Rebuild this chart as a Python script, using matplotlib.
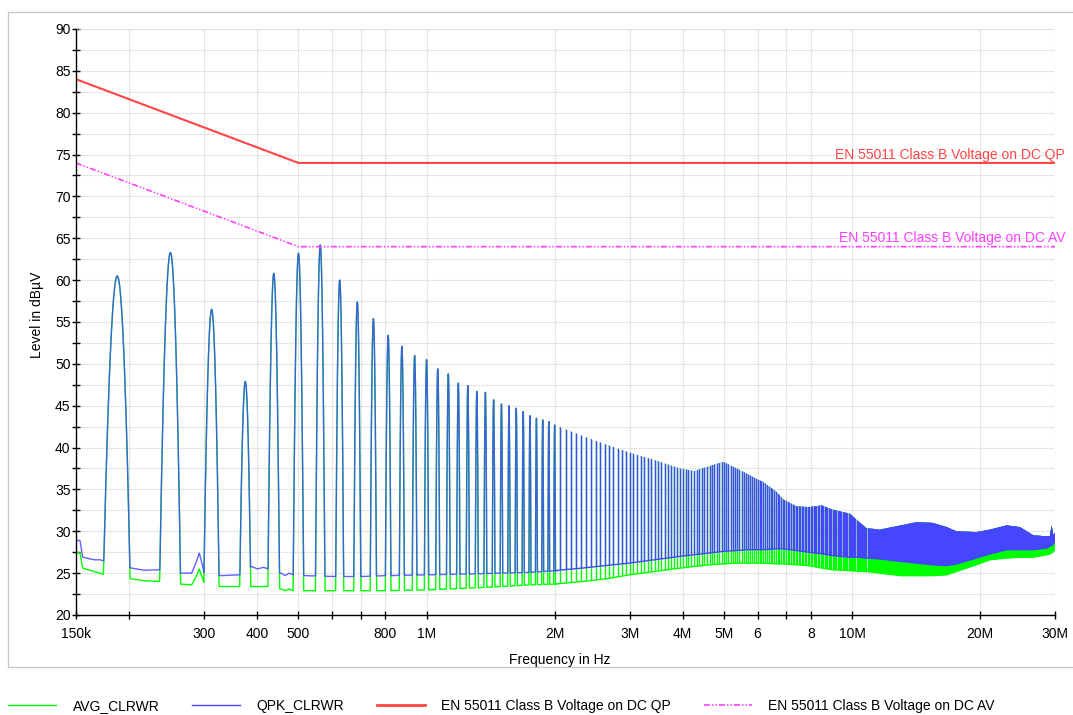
import numpy as np
import matplotlib
matplotlib.use("Agg")
import matplotlib.pyplot as plt
from matplotlib.path import Path
from matplotlib.patches import Rectangle
from matplotlib.lines import Line2D
from matplotlib.ticker import FixedLocator, FixedFormatter, MultipleLocator, NullLocator
from matplotlib.transforms import blended_transform_factory

plt.rcParams['font.family'] = ['Liberation Sans', 'DejaVu Sans']

# ---------------------------------------------------------------- data
# converter switching frequency: the emissions sit on its harmonics
switch_freq_khz = 62.5

# individually resolved harmonics (n = 3 ... 32) and their peak levels
resolved_harmonics = list(range(3, 33))
peak_level_dbuv = [60.5, 63.3, 56.5, 47.9, 60.8, 63.2, 64.2, 60.0, 57.4, 55.4,
                   53.4, 52.1, 51.0, 50.5, 49.4, 48.8, 47.7, 47.4, 46.7, 46.6,
                   45.7, 45.2, 45.0, 44.7, 44.3, 43.8, 43.5, 43.3, 43.1, 42.7]

# noise floor between the resolved harmonics (QPK and AVG detectors)
floor_freq_khz = [150, 153.3, 155.5, 164.7, 170.8, 175.5, 202.8, 216, 236,
                  263, 280.5, 287, 292.3, 296, 300, 327, 364, 388, 400, 414,
                  428.5, 455, 465, 475, 485, 520, 600, 700, 800, 1000, 1250,
                  1500, 1750, 2030]
qpk_floor_dbuv = [28.9, 28.9, 26.9, 26.6, 26.6, 26.4, 25.6, 25.35, 25.4,
                  25.0, 25.0, 26.2, 27.4, 26.4, 25.0, 24.7, 24.8, 25.8, 25.5,
                  25.7, 25.4, 25.0, 24.7, 25.0, 24.8, 24.7, 24.6, 24.6, 24.7,
                  24.8, 24.9, 25.0, 25.1, 25.3]
avg_floor_dbuv = [27.5, 27.4, 25.6, 25.2, 25.0, 24.8, 24.3, 24.1, 24.0,
                  23.7, 23.6, 24.5, 25.5, 24.7, 23.8, 23.4, 23.4, 23.4, 23.4,
                  23.4, 23.4, 23.1, 22.9, 23.1, 22.9, 22.9, 22.9, 22.9, 22.9,
                  23.0, 23.2, 23.4, 23.6, 23.7]

# dense part above 2 MHz: envelope of the harmonic tops and the two floors
band_freq_mhz = [2.0, 2.32, 2.63, 3.0, 3.44, 3.94, 4.26, 4.63, 4.98, 5.36,
                 5.70, 6.0, 6.18, 6.65, 6.9, 7.4, 7.9, 8.5, 9.0, 9.9, 10.3,
                 10.8, 11.6, 13.0, 14.2, 15.5, 16.7, 17.6, 19.6, 21.1, 23.1,
                 24.8, 26.7, 28.7, 29.2, 29.45, 29.7, 30.0]
band_top_dbuv = [42.7, 41.4, 40.4, 39.4, 38.5, 37.5, 37.2, 37.8, 38.3, 37.5,
                 36.8, 36.2, 35.9, 34.7, 33.8, 33.0, 32.9, 33.1, 32.6, 32.1,
                 31.3, 30.4, 30.2, 30.7, 31.1, 31.0, 30.5, 30.0, 29.9, 30.2,
                 30.7, 30.5, 29.5, 29.4, 29.4, 30.7, 29.6, 29.8]
band_qpk_floor_dbuv = [25.3, 25.6, 25.9, 26.2, 26.6, 27.0, 27.2, 27.4, 27.6,
                       27.7, 27.8, 27.8, 27.8, 27.9, 27.9, 27.7, 27.5, 27.3,
                       27.1, 26.9, 26.9, 26.8, 26.7, 26.4, 26.2, 26.0, 25.9,
                       26.1, 26.8, 27.3, 27.8, 27.8, 27.8, 28.0, 28.2, 28.3,
                       28.5, 28.8]
band_avg_floor_dbuv = [23.7, 24.0, 24.3, 24.8, 25.2, 25.6, 25.8, 26.0, 26.1,
                       26.2, 26.2, 26.2, 26.2, 26.1, 26.1, 26.0, 25.9, 25.6,
                       25.4, 25.3, 25.2, 25.2, 25.0, 24.7, 24.7, 24.7, 24.8,
                       25.2, 26.0, 26.6, 26.8, 26.9, 26.9, 27.2, 27.3, 27.4,
                       27.6, 27.8]

# EN 55011 class B limits for DC power ports
limit_freq_mhz = [0.15, 0.5, 30.0]
limit_qp_dbuv = [84, 74, 74]
limit_av_dbuv = [74, 64, 64]

x_tick_hz = [150e3, 200e3, 300e3, 400e3, 500e3, 600e3, 700e3, 800e3, 1e6,
             2e6, 3e6, 4e6, 5e6, 6e6, 7e6, 8e6, 10e6, 20e6, 30e6]
x_tick_labels = ['150k', '', '300', '400', '500', '', '', '800', '1M',
                 '2M', '3M', '4M', '5M', '6', '', '8', '10M', '20M', '30M']

# ---------------------------------------------------------------- styles
C_AVG = '#00ff00'
C_QPK = '#4646ff'
C_QP = '#ff4646'
C_AV = '#ff40ff'
C_GRID = '#cfcfcf'
AV_DASH = (0, (3.6, 1.2, 0.9, 1.2, 0.9, 1.2))
GRID_DOT = (0, (1.2, 1.2))
RBW_HALF_KHZ = 13.5      # receiver filter: ~36 dB down at this offset

W, H = 1073, 715
fig = plt.figure(figsize=(W / 100, H / 100), dpi=100)
ax = fig.add_axes([76 / W, 1 - 615 / H, (1055 - 76) / W, (615 - 29) / H])

# outer frame of the plot window
fig.patches.append(Rectangle((7.5 / W, 1 - 667 / H), 1.2, (667 - 12) / H,
                             transform=fig.transFigure, fill=False,
                             edgecolor='#c8c8c8', lw=1.0))

# ------------------------------------------------ resolved harmonics < 2 MHz
f_khz = np.arange(150.0, 2030.0, 0.25)


def resolved_trace(floor_levels):
    level = np.interp(f_khz, floor_freq_khz, floor_levels)
    for n, pk in zip(resolved_harmonics, peak_level_dbuv):
        fc = n * switch_freq_khz
        level = np.maximum(level, pk - 36.0 * ((f_khz - fc) / RBW_HALF_KHZ) ** 2)
    return level


ax.plot(f_khz * 1e3, resolved_trace(avg_floor_dbuv), color=C_AVG, lw=1.0, zorder=3)

# ------------------------------------------------ dense harmonics 2 .. 30 MHz
band_hz = np.array(band_freq_mhz) * 1e6
dense_n = np.arange(resolved_harmonics[-1] + 1, int(30e3 / switch_freq_khz) + 1)
dense_hz = dense_n * switch_freq_khz * 1e3


def band_path(lower, upper):
    verts = list(zip(band_hz, upper)) + list(zip(band_hz[::-1], np.array(lower)[::-1]))
    verts.append(verts[0])
    return Path(verts, closed=True)


ax.plot(band_hz, band_avg_floor_dbuv, color=C_AVG, lw=1.0, zorder=3)
g_lines = ax.vlines(dense_hz, 20, 90, colors=C_AVG, lw=1.0, zorder=3)
g_lines.set_clip_path(band_path(band_avg_floor_dbuv, band_top_dbuv), ax.transData)

ax.plot(f_khz * 1e3, resolved_trace(qpk_floor_dbuv), color=C_QPK, lw=1.0,
        alpha=0.85, zorder=4)
ax.plot(band_hz, band_qpk_floor_dbuv, color=C_QPK, lw=1.0, zorder=4)
b_lines = ax.vlines(dense_hz, 20, 90, colors=C_QPK, lw=1.0, zorder=4)
b_lines.set_clip_path(band_path(band_qpk_floor_dbuv, band_top_dbuv), ax.transData)

# ------------------------------------------------ limit lines
lim_hz = np.array(limit_freq_mhz) * 1e6
ax.plot(lim_hz, limit_qp_dbuv, color=C_QP, lw=1.5, zorder=5)
ax.plot(lim_hz, limit_av_dbuv, color=C_AV, lw=1.2, ls=AV_DASH, zorder=5)

tr = blended_transform_factory(ax.transAxes, ax.transData)
ax.text(1.0102, limit_qp_dbuv[-1] + 1.0, 'EN 55011 Class B Voltage on DC QP',
        color=C_QP, fontsize=10, ha='right', va='center', transform=tr, clip_on=False)
ax.text(1.0112, limit_av_dbuv[-1] + 1.0, 'EN 55011 Class B Voltage on DC AV',
        color=C_AV, fontsize=10, ha='right', va='center', transform=tr, clip_on=False)

# ------------------------------------------------ axes
ax.set_xscale('log')
ax.set_xlim(150e3, 30e6)
ax.set_ylim(20, 90)
ax.xaxis.set_major_locator(FixedLocator(x_tick_hz))
ax.xaxis.set_major_formatter(FixedFormatter(x_tick_labels))
ax.xaxis.set_minor_locator(NullLocator())
ax.yaxis.set_major_locator(MultipleLocator(5))
ax.yaxis.set_minor_locator(MultipleLocator(2.5))

for s in ('top', 'right'):
    ax.spines[s].set_visible(False)
for s in ('left', 'bottom'):
    ax.spines[s].set_linewidth(1.0)
    ax.spines[s].set_zorder(6)

ax.tick_params(axis='both', which='both', direction='inout', length=6,
               width=1.0, colors='black', labelsize=10)
ax.tick_params(axis='y', pad=1)
ax.tick_params(axis='x', pad=6)

ax.grid(True, which='both', axis='y', color=C_GRID, ls=GRID_DOT, lw=0.8)
ax.grid(True, which='major', axis='x', color=C_GRID, ls=GRID_DOT, lw=0.8)
ax.axhline(90, color=C_GRID, ls=GRID_DOT, lw=0.8, zorder=1)
ax.axvline(30e6, color=C_GRID, ls=GRID_DOT, lw=0.8, zorder=1)
ax.set_axisbelow(True)

fig.text(37 / W, 1 - 315 / H, 'Level in dBµV', rotation=90, fontsize=10,
         ha='center', va='center')
fig.text(560 / W, 1 - 660 / H, 'Frequency in Hz', fontsize=10,
         ha='center', va='center')

# ------------------------------------------------ legend
handles = [Line2D([], [], color=C_AVG, lw=1.0),
           Line2D([], [], color=C_QPK, lw=1.0),
           Line2D([], [], color=C_QP, lw=2.0),
           Line2D([], [], color=C_AV, lw=1.2, ls=AV_DASH)]
labels = ['AVG_CLRWR', 'QPK_CLRWR', 'EN 55011 Class B Voltage on DC QP',
          'EN 55011 Class B Voltage on DC AV']
fig.legend(handles, labels, loc='center left', bbox_to_anchor=(8 / W, 1 - 706 / H),
           ncol=4, frameon=False, fontsize=10, handlelength=3.45,
           handletextpad=1.2, columnspacing=2.35, borderpad=0, borderaxespad=0)

fig.savefig('out.png', dpi=100)
